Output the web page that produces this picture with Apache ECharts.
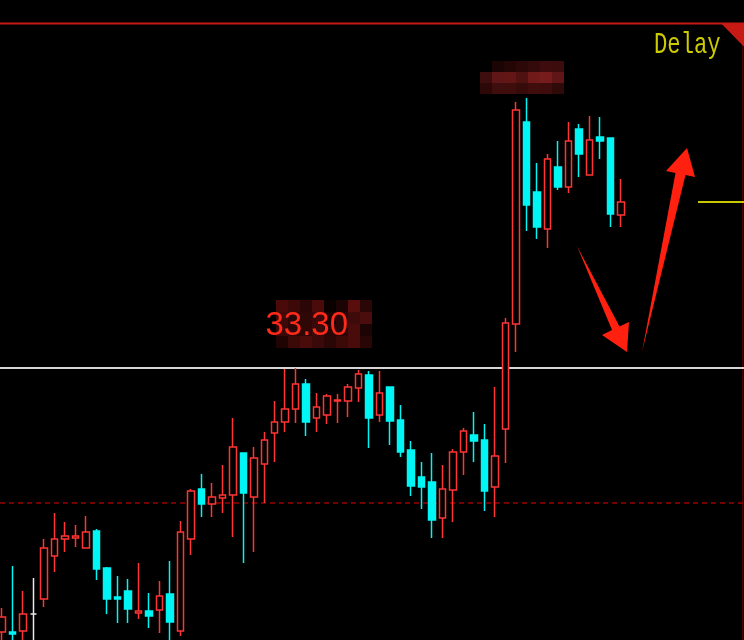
<!DOCTYPE html>
<html>
<head>
<meta charset="utf-8">
<script src="https://cdn.jsdelivr.net/npm/echarts@6/dist/echarts.min.js"></script>
<style>
  html, body { margin: 0; padding: 0; background: #000; }
  #chart { width: 744px; height: 640px; }
</style>
</head>
<body>
<div id="chart"></div>
<script>
// Daily bars (60 sessions); the axis keeps 11 empty slots on the right.
const opens = [30.66,30.66,30.67,30.84,30.99,31.42,31.59,31.60,31.50,31.67,
  31.30,31.01,31.07,30.85,30.87,30.88,31.04,30.67,31.59,32.09,
  31.94,32.00,32.03,32.45,32.01,32.34,32.65,32.76,32.89,33.14,
  32.80,32.83,32.97,32.97,33.10,33.23,32.83,33.11,32.78,32.48,
  32.21,32.16,31.80,32.08,32.46,32.63,32.58,32.11,32.69,33.74,
  35.76,35.06,34.69,35.31,35.11,35.69,35.23,35.61,35.60,34.83];
const closes = [30.81,30.64,30.84,30.84,31.50,31.59,31.62,31.62,31.66,31.29,
  30.99,30.99,30.89,30.87,30.82,31.02,30.76,31.66,32.07,31.94,
  32.01,32.03,32.51,32.05,32.40,32.58,32.76,32.89,33.14,32.76,
  32.91,33.02,32.98,33.11,33.24,32.80,33.05,32.77,32.46,32.12,
  32.11,31.78,32.09,32.46,32.67,32.57,32.07,32.42,33.75,35.88,
  34.93,34.71,35.39,35.11,35.57,35.44,35.58,35.57,34.84,34.96];
const lows = [30.55,30.53,30.53,30.53,30.91,31.26,31.46,31.51,31.50,31.18,
  30.84,30.75,30.75,30.79,30.70,30.65,30.53,30.62,31.43,31.81,
  31.81,31.85,31.61,31.35,31.46,31.95,32.36,32.66,32.75,32.62,
  32.66,32.74,32.75,32.81,32.96,32.50,32.76,32.53,32.41,32.02,
  31.89,31.60,31.60,31.76,32.23,32.36,31.87,31.81,32.35,33.46,
  34.67,34.59,34.50,35.08,35.05,35.21,35.23,35.39,34.71,34.71];
const highs = [30.90,31.32,31.07,31.20,31.59,31.85,31.76,31.73,31.82,31.69,
  31.31,31.22,31.19,31.35,31.05,31.17,31.37,31.77,32.09,32.24,
  32.15,32.33,32.80,32.45,32.51,32.66,32.97,33.29,33.30,33.19,
  33.05,33.04,33.04,33.14,33.28,33.27,33.27,33.11,32.93,32.57,
  32.36,32.45,32.33,32.49,32.70,32.86,32.74,33.11,33.80,35.96,
  36.00,35.35,35.44,35.57,35.76,35.74,35.82,35.81,35.60,35.19];

const SLOT_COUNT = 71;
const days = Array.from({ length: SLOT_COUNT }, (_, i) => 'D' + (i + 1));

const peakIndex = 28;            // swing high marked on the chart
const supportLevel = 31.95;      // dashed reference level
const lastClose = closes[closes.length - 1];

const candles = opens.map((o, i) => [o, closes[i], lows[i], highs[i]]);

// Pixelated blocks (mosaic) behind the annotations
const mosaicTop = [
  [null, '#1a0404', '#240606', '#2c0808', '#340a0a', '#3e0c0c', '#3c0b0b'],
  ['#3e0d0d', '#601616', '#621616', '#501111', '#701a1a', '#761c1c', '#601616'],
  ['#2c0808', '#3e0d0d', '#400d0d', '#380b0b', '#400d0d', '#3e0c0c', '#300909']
];
const mosaicMid = [
  ['#4a0a0a', '#3c0808', '#2a0606', '#4c0b0b', '#0a0000', '#1c0404', '#5a0d0d', '#2a0606'],
  ['#3e0909', '#2a0606', '#2e0707', '#3a0808', '#1a0303', '#2c0606', '#3e0a0a', '#4a0c0c'],
  ['#3a0808', '#2c0606', '#300707', '#3a0909', '#280606', '#2a0606', '#4a0b0b', '#1c0404'],
  ['#200404', '#3c0909', '#4a0b0b', '#3a0909', '#2a0606', '#3c0909', '#4a0b0b', '#280606']
];
function mosaicRects(rows, x0, y0, cw, ch) {
  const out = [];
  rows.forEach((row, r) => row.forEach((c, k) => {
    if (!c) return;
    out.push({ type: 'rect', silent: true, z: 0,
      shape: { x: x0 + k * cw, y: y0 + r * ch, width: cw, height: ch },
      style: { fill: c } });
  }));
  return out;
}

const chart = echarts.init(document.getElementById('chart'), null, { renderer: 'canvas' });

// Slot centres run from x=2 with a 10.49px pitch
chart.setOption({
  backgroundColor: '#000',
  animation: false,
  grid: { left: 2, top: 22, width: 734.3, height: 618 },
  xAxis: { type: 'category', data: days, show: false, boundaryGap: false },
  yAxis: { type: 'value', min: 30.58, max: 36.76, show: false, splitLine: { show: false } },
  series: [{
    type: 'candlestick',
    data: candles,
    barWidth: 7,
    clip: false,
    itemStyle: {
      color: '#000000',
      color0: '#00f5f5',
      borderColor: '#ff3434',
      borderColor0: '#00f5f5',
      borderColorDoji: '#e8e8e8',
      borderWidth: 1.5
    },
    markPoint: {
      silent: true,
      symbol: 'rect',
      symbolSize: 1,
      itemStyle: { color: 'rgba(0,0,0,0)' },
      data: [{
        coord: [peakIndex, highs[peakIndex]],
        value: highs[peakIndex].toFixed(2),
        label: {
          show: true, position: 'inside', offset: [11, -42.5],
          formatter: '{c}', color: '#ff2a1a',
          fontFamily: 'Liberation Sans', fontSize: 33
        }
      }]
    }
  }]
});

// Level lines span the full panel; their heights come from the value axis
const yPeak = chart.convertToPixel({ yAxisIndex: 0 }, highs[peakIndex]);
const ySupport = chart.convertToPixel({ yAxisIndex: 0 }, supportLevel);
const yLast = chart.convertToPixel({ yAxisIndex: 0 }, lastClose);

chart.setOption({
  graphic: [
    ...mosaicRects(mosaicTop, 480, 61, 12, 11),
    ...mosaicRects(mosaicMid, 276, 300, 12, 12),
    { type: 'line', silent: true, z: 1, shape: { x1: 0, y1: yPeak, x2: 744, y2: yPeak },
      style: { stroke: '#d6d6d6', lineWidth: 2 } },
    { type: 'line', silent: true, z: 1, shape: { x1: 0, y1: ySupport, x2: 744, y2: ySupport },
      style: { stroke: '#9a0000', lineWidth: 1.5, lineDash: [5, 4] } },
    { type: 'line', silent: true, shape: { x1: 0, y1: 23.5, x2: 744, y2: 23.5 },
      style: { stroke: '#c81a14', lineWidth: 2 } },
    { type: 'line', silent: true, shape: { x1: 742.5, y1: 24, x2: 742.5, y2: 640 },
      style: { stroke: '#4a0000', lineWidth: 1 } },
    { type: 'polygon', silent: true, shape: { points: [[721.7, 24], [744, 24], [744, 46.7]] },
      style: { fill: '#c81a14' } },
    { type: 'text', silent: true, x: 654, y: 45.5, scaleX: 0.74,
      style: { text: 'Delay', font: '30px "Liberation Mono"', fill: '#cccc00',
        textAlign: 'left', textVerticalAlign: 'middle' } },
    { type: 'line', silent: true, shape: { x1: 698, y1: yLast, x2: 744, y2: yLast },
      style: { stroke: '#c8c800', lineWidth: 2 } },
    // annotation arrows
    { type: 'polygon', silent: true,
      shape: { points: [[577, 246], [619.5, 326.5], [629, 322], [627, 352], [602, 335], [612, 330]] },
      style: { fill: '#ff2010' } },
    { type: 'polygon', silent: true,
      shape: { points: [[642, 352], [675.5, 173], [666, 171], [687, 148], [695, 177], [685.5, 175]] },
      style: { fill: '#ff2010' } }
  ]
});
</script>
</body>
</html>
